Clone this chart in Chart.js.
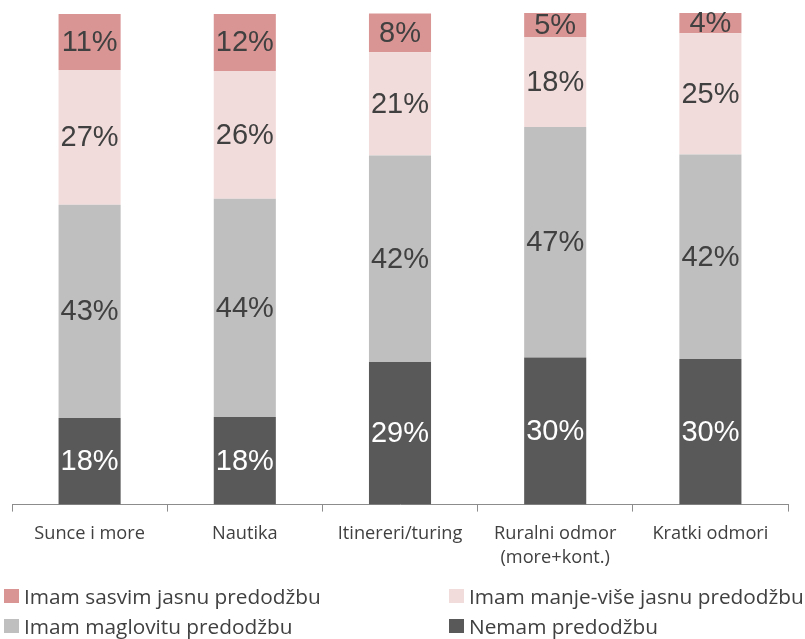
<!DOCTYPE html>
<html>
<head>
<meta charset="utf-8">
<script src="https://cdn.jsdelivr.net/npm/chart.js@4"></script>
<style>
  html, body { margin: 0; padding: 0; background: #fff; }
  #wrap { position: relative; width: 805px; height: 639px; overflow: hidden; }
  #grafico { position: absolute; left: 0; top: 0; }
  #legenda {
    position: absolute; left: 4px; top: 581px;
    display: grid; grid-template-columns: 445px 356px; grid-auto-rows: 30px;
    font-family: "Open Sans", sans-serif; font-size: 20.8px; color: #404040;
  }
  #legenda .item { display: flex; align-items: center; white-space: nowrap; }
  #legenda .box { width: 15px; height: 14px; margin-right: 5px; flex: none; }
</style>
</head>
<body>
<div id="wrap">
  <canvas id="grafico" width="805" height="586"></canvas>
  <div id="legenda"></div>
</div>
<script>
// Kategorije (x os)
const kategorije = ['Sunce i more', 'Nautika', 'Itinereri/turing', ['Ruralni odmor', '(more+kont.)'], 'Kratki odmori'];

// Vrijednosti u % (očitane sa slike), od dna stupca prema vrhu
const nemam = [17.6, 17.8, 29.0, 29.9, 29.6];
const maglovitu = [43.4, 44.4, 42.0, 46.9, 41.6];
const manjeVise = [27.4, 26.0, 21.0, 18.3, 24.7];
const sasvimJasnu = [11.4, 11.6, 7.9, 4.9, 4.2];

// Plugin koji ispisuje postotke u sredini svakog segmenta
const oznake = {
  id: 'oznake',
  afterDatasetsDraw(chart) {
    const ctx = chart.ctx;
    ctx.save();
    ctx.font = '29px "Liberation Sans", Arial, sans-serif';
    ctx.textAlign = 'center';
    ctx.textBaseline = 'middle';
    chart.data.datasets.forEach((ds, i) => {
      const meta = chart.getDatasetMeta(i);
      ctx.fillStyle = ds.bojaTeksta;
      meta.data.forEach((bar, j) => {
        const y = (bar.y + bar.base) / 2;
        ctx.fillText(Math.round(ds.data[j]) + '%', bar.x, y + 1);
      });
    });
    ctx.restore();
  }
};

const ctx = document.getElementById('grafico').getContext('2d');
const graf = new Chart(ctx, {
  type: 'bar',
  data: {
    labels: kategorije,
    datasets: [
      { label: 'Nemam predodžbu', data: nemam, backgroundColor: '#595959', bojaTeksta: '#ffffff' },
      { label: 'Imam maglovitu predodžbu', data: maglovitu, backgroundColor: '#bfbfbf', bojaTeksta: '#404040' },
      { label: 'Imam manje-više jasnu predodžbu', data: manjeVise, backgroundColor: '#f2dcdb', bojaTeksta: '#404040' },
      { label: 'Imam sasvim jasnu predodžbu', data: sasvimJasnu, backgroundColor: '#d99594', bojaTeksta: '#404040' }
    ]
  },
  options: {
    responsive: false,
    animation: false,
    layout: { padding: { left: 12, right: 17, top: 13, bottom: 6 } },
    datasets: { bar: { barPercentage: 0.8, categoryPercentage: 0.5 } },
    scales: {
      x: {
        stacked: true,
        offset: true,
        border: { color: '#8c8c8c', width: 1 },
        grid: { offset: true, drawOnChartArea: false, tickLength: 7, color: '#8c8c8c' },
        ticks: {
          padding: 10,
          color: '#404040',
          maxRotation: 0,
          autoSkip: false,
          font: { family: '"Open Sans", sans-serif', size: 18.2, lineHeight: 1.33 }
        }
      },
      y: { stacked: true, display: false, min: 0, max: 100 }
    },
    plugins: {
      legend: { display: false },
      tooltip: { enabled: false }
    }
  },
  plugins: [oznake]
});

// Legenda u dva stupca (redoslijed obrnut od slaganja)
const legenda = document.getElementById('legenda');
graf.data.datasets.slice().reverse().forEach(ds => {
  const item = document.createElement('div');
  item.className = 'item';
  item.innerHTML = `<span class="box" style="background:${ds.backgroundColor}"></span><span>${ds.label}</span>`;
  legenda.appendChild(item);
});
</script>
</body>
</html>
